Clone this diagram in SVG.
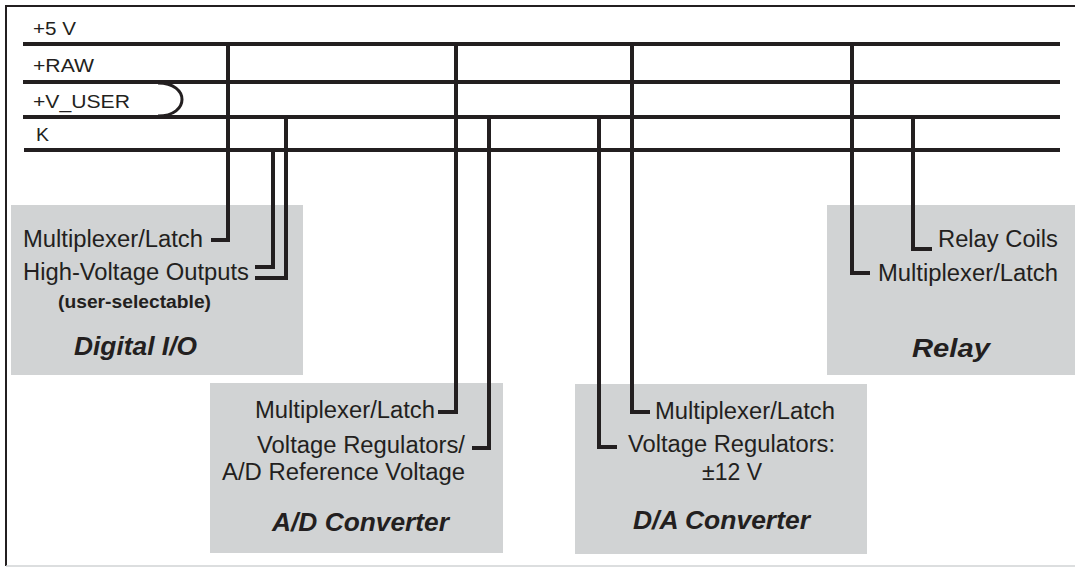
<svg xmlns="http://www.w3.org/2000/svg" width="1075" height="567" viewBox="0 0 1075 567">
  <style>
    .box { fill: #d1d3d4; }
    .t { font-family: "Liberation Sans", Arial, sans-serif; font-size: 23px; fill: #231f20; }
    .bus-label { font-family: "Liberation Sans", Arial, sans-serif; font-size: 19px; fill: #231f20; }
    .title { font-family: "Liberation Sans", Arial, sans-serif; font-size: 25px; font-weight: bold; font-style: italic; fill: #231f20; }
    .note { font-family: "Liberation Sans", Arial, sans-serif; font-size: 18px; font-weight: bold; fill: #231f20; }
    .bus { stroke: #231f20; stroke-width: 4; fill: none; }
    .wire { stroke: #231f20; stroke-width: 4; fill: none; stroke-linejoin: miter; stroke-linecap: butt; }
  </style>
  <rect x="0" y="0" width="1075" height="567" fill="#ffffff"/>
  <g id="frame">
    <line x1="6" y1="6" x2="1075" y2="6" stroke="#231f20" stroke-width="2"/>
    <line x1="6" y1="5" x2="6" y2="566" stroke="#231f20" stroke-width="2"/>
    <line x1="6" y1="566" x2="1075" y2="566" stroke="#d1d3d4" stroke-width="1.5"/>
  </g>
  <g id="digital-io">
    <rect class="box" x="11" y="205" width="292" height="170"/>
    <text class="t" x="203" y="247" text-anchor="end" textLength="180" lengthAdjust="spacingAndGlyphs">Multiplexer/Latch</text>
    <text class="t" x="249" y="280" text-anchor="end" textLength="226" lengthAdjust="spacingAndGlyphs">High-Voltage Outputs</text>
    <text class="note" x="58" y="308" textLength="153" lengthAdjust="spacingAndGlyphs">(user-selectable)</text>
    <text class="title" x="74" y="355" textLength="123" lengthAdjust="spacingAndGlyphs">Digital I/O</text>
  </g>
  <g id="ad-converter">
    <rect class="box" x="210" y="383" width="293" height="170"/>
    <text class="t" x="435" y="418" text-anchor="end" textLength="180" lengthAdjust="spacingAndGlyphs">Multiplexer/Latch</text>
    <text class="t" x="465" y="453" text-anchor="end" textLength="208" lengthAdjust="spacingAndGlyphs">Voltage Regulators/</text>
    <text class="t" x="465" y="480" text-anchor="end" textLength="243" lengthAdjust="spacingAndGlyphs">A/D Reference Voltage</text>
    <text class="title" x="272" y="531" textLength="177" lengthAdjust="spacingAndGlyphs">A/D Converter</text>
  </g>
  <g id="da-converter">
    <rect class="box" x="575" y="384" width="292" height="170"/>
    <text class="t" x="655" y="419" textLength="180" lengthAdjust="spacingAndGlyphs">Multiplexer/Latch</text>
    <text class="t" x="628" y="452" textLength="207" lengthAdjust="spacingAndGlyphs">Voltage Regulators:</text>
    <text class="t" x="702" y="480" textLength="60" lengthAdjust="spacingAndGlyphs">±12 V</text>
    <text class="title" x="633" y="529" textLength="177" lengthAdjust="spacingAndGlyphs">D/A Converter</text>
  </g>
  <g id="relay">
    <rect class="box" x="827" y="205" width="248" height="170"/>
    <text class="t" x="1058" y="247" text-anchor="end" textLength="120" lengthAdjust="spacingAndGlyphs">Relay Coils</text>
    <text class="t" x="1058" y="281" text-anchor="end" textLength="180" lengthAdjust="spacingAndGlyphs">Multiplexer/Latch</text>
    <text class="title" x="912" y="357" textLength="78" lengthAdjust="spacingAndGlyphs">Relay</text>
  </g>
  <g id="buses">
    <line class="bus" x1="23" y1="44" x2="1060" y2="44"/>
    <line class="bus" x1="23" y1="82" x2="1060" y2="82"/>
    <line class="bus" x1="23" y1="117" x2="1060" y2="117"/>
    <line class="bus" x1="24" y1="150" x2="1060" y2="150"/>
    <path d="M 158 83 C 190 83, 190 116, 158 116" stroke="#231f20" stroke-width="3" fill="none"/>
    <text class="bus-label" x="33" y="35" textLength="43" lengthAdjust="spacingAndGlyphs">+5 V</text>
    <text class="bus-label" x="33" y="72" textLength="61" lengthAdjust="spacingAndGlyphs">+RAW</text>
    <text class="bus-label" x="33" y="108" textLength="97" lengthAdjust="spacingAndGlyphs">+V_USER</text>
    <text class="bus-label" x="36" y="141" textLength="13" lengthAdjust="spacingAndGlyphs">K</text>
  </g>
  <g id="connectors">
    <polyline class="wire" points="228,44 228,240 211,240"/>
    <polyline class="wire" points="273,150 273,267 255,267"/>
    <polyline class="wire" points="286,117 286,278 255,278"/>
    <polyline class="wire" points="456,44 456,412 438,412"/>
    <polyline class="wire" points="489,117 489,448 472,448"/>
    <polyline class="wire" points="599,117 599,447 617,447"/>
    <polyline class="wire" points="632,44 632,412 650,412"/>
    <polyline class="wire" points="852,44 852,273 870,273"/>
    <polyline class="wire" points="913,117 913,249 932,249"/>
  </g>
</svg>
